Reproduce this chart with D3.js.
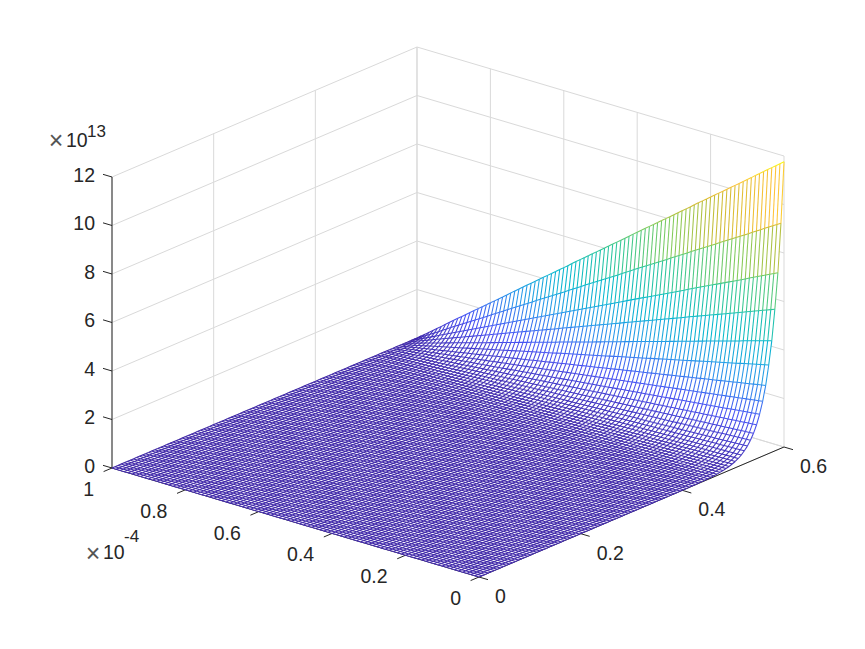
<!DOCTYPE html>
<html>
<head>
<meta charset="utf-8">
<style>html,body{margin:0;padding:0;background:#fff}svg{display:block}text{font-family:"Liberation Sans",Arial,sans-serif;fill:#262626}</style>
<script src="https://cdn.jsdelivr.net/npm/d3@7"></script>
</head>
<body>
<svg id="chart" width="865" height="649"></svg>
<script>
// Surface height (units of 1e13) at a = 0, for each mesh position along b = 0 .. 0.6
const zAlongB = [
0,0,0,0,0,0,0,0,0,0,0,0,0,0,0,0,0,0,0,0,
0,0,0,0,0,0,0,0,0,0,0,0,0,0,0,0,0,0,0,0,
0,0,0,0,0,0,0,0,0,0,0,0,0,0,0,0,0,0,0,0,
0.001,0.001,0.001,0.002,0.002,0.003,0.004,0.005,0.006,0.008,
0.01,0.012,0.015,0.02,0.025,0.03,0.04,0.05,0.06,0.08,
0.10,0.13,0.16,0.21,0.26,0.33,0.42,0.54,0.68,0.87,
1.10,1.40,1.78,2.26,2.86,3.65,4.60,5.84,7.29,9.28,11.76];
// Surface height (units of 1e13) at b = 0.6, for each mesh position along a = 0 .. 1e-4
const zAlongA = [
11.76,11.63,11.50,11.37,11.24,11.11,10.98,10.85,10.71,10.58,
10.45,10.32,10.19,10.06,9.93,9.80,9.67,9.54,9.41,9.28,
9.15,9.02,8.89,8.75,8.62,8.49,8.36,8.23,8.10,7.97,
7.84,7.71,7.58,7.45,7.32,7.19,7.06,6.93,6.79,6.66,
6.53,6.40,6.27,6.14,6.01,5.88,5.75,5.62,5.49,5.36,
5.23,5.10,4.97,4.83,4.70,4.57,4.44,4.31,4.18,4.05,
3.92,3.79,3.66,3.53,3.40,3.27,3.14,3.01,2.87,2.74,
2.61,2.48,2.35,2.22,2.09,1.96,1.83,1.70,1.57,1.44,
1.31,1.18,1.05,0.92,0.78,0.65,0.52,0.39,0.26,0.13,0];
const aTicks = [0,0.2,0.4,0.6,0.8,1];
const aTickLabels = ["0","0.2","0.4","0.6","0.8","1"];
const bTicks = [0,0.2,0.4,0.6];
const bTickLabels = ["0","0.2","0.4","0.6"];
const zTicks = [0,2,4,6,8,10,12];
const zTickLabels = ["0","2","4","6","8","10","12"];
const parulaStops = ["#3e26a8","#4752f4","#2796eb","#05b9cd","#32c896","#82cb5a","#d2bb32","#fec338","#f9fb14"];

const svg = d3.select("#chart");
const aX = d3.scaleLinear().domain([0,1]).range([0,-367]);
const aY = d3.scaleLinear().domain([0,1]).range([0,-109]);
const bX = d3.scaleLinear().domain([0,0.6]).range([0,305]);
const bY = d3.scaleLinear().domain([0,0.6]).range([0,-130]);
const zY = d3.scaleLinear().domain([0,12]).range([0,-291]);
const originX = 479, originY = 577;
const project = (a,b,z) => [originX+aX(a)+bX(b), originY+aY(a)+bY(b)+zY(z)];
const zMax = d3.max(zAlongB);
const colour = d3.scaleLinear()
  .domain(parulaStops.map((_,i)=>i/(parulaStops.length-1)*zMax))
  .range(parulaStops).interpolate(d3.interpolateRgb).clamp(true);

const aGrid = zAlongA.map((_,i)=>i/(zAlongA.length-1));
const bGrid = zAlongB.map((_,j)=>j/(zAlongB.length-1)*0.6);
const Z = (i,j) => zAlongB[j]*zAlongA[i]/zAlongA[0];

// grid on back walls and floor
const gridColour = "#d9d9d9";
const gridSegs = [];
zTicks.forEach(z=>{
  gridSegs.push([project(1,0,z),project(1,0.6,z)]);
  gridSegs.push([project(1,0.6,z),project(0,0.6,z)]);
});
bTicks.forEach(b=>{
  gridSegs.push([project(1,b,0),project(1,b,12)]);
  gridSegs.push([project(0,b,0),project(1,b,0)]);
});
aTicks.forEach(a=>{
  gridSegs.push([project(a,0.6,0),project(a,0.6,12)]);
  gridSegs.push([project(a,0,0),project(a,0.6,0)]);
});
const seg = (sel,data,stroke,width)=>sel.selectAll("line").data(data).join("line")
  .attr("x1",d=>d[0][0]).attr("y1",d=>d[0][1]).attr("x2",d=>d[1][0]).attr("y2",d=>d[1][1])
  .attr("stroke",stroke).attr("stroke-width",width);
seg(svg.append("g").attr("class","grid"),gridSegs,gridColour,1);

// axis rulers
const axisColour = "#262626";
const axisSegs = [
  [project(1,0,0),project(1,0,12)],
  [project(0,0,0),project(1,0,0)],
  [project(0,0,0),project(0,0.6,0)]
];
const tickA = 0.0245, tickB = 0.0165;
zTicks.forEach(z=>axisSegs.push([project(1,0,z),project(1-(-tickA),0,z)]));
aTicks.forEach(a=>axisSegs.push([project(a,0,0),project(a,-tickB,0)]));
bTicks.forEach(b=>axisSegs.push([project(0,b,0),project(-tickA,b,0)]));
seg(svg.append("g").attr("class","axes"),axisSegs,axisColour,1);

// white mesh face that hides what lies behind
const outline = [];
aGrid.forEach((a,i)=>outline.push(project(a,0,Z(i,0))));
bGrid.forEach((b,j)=>outline.push(project(1,b,Z(aGrid.length-1,j))));
aGrid.slice().reverse().forEach((a,k)=>{const i=aGrid.length-1-k;outline.push(project(a,0.6,Z(i,bGrid.length-1)));});
bGrid.slice().reverse().forEach((b,k)=>{const j=bGrid.length-1-k;outline.push(project(0,b,Z(0,j)));});
svg.append("path").attr("d",d3.line()(outline)+"Z").attr("fill","#fff").attr("stroke","none");

// mesh
const meshSegs = [];
aGrid.forEach((a,i)=>bGrid.forEach((b,j)=>{
  const z=Z(i,j);
  if(j<bGrid.length-1){const z2=Z(i,j+1);meshSegs.push({p:[project(a,b,z),project(a,bGrid[j+1],z2)],z:(z+z2)/2});}
  if(i<aGrid.length-1){const z2=Z(i+1,j);meshSegs.push({p:[project(a,b,z),project(aGrid[i+1],b,z2)],z:(z+z2)/2});}
}));
svg.append("g").attr("class","mesh").selectAll("line").data(meshSegs).join("line")
  .attr("x1",d=>d.p[0][0]).attr("y1",d=>d.p[0][1]).attr("x2",d=>d.p[1][0]).attr("y2",d=>d.p[1][1])
  .attr("stroke",d=>colour(d.z)).attr("stroke-width",1.05);

// tick labels
const fs = 19.5;
const label=(x,y,t,anchor,size)=>svg.append("text").attr("x",x).attr("y",y).attr("text-anchor",anchor)
  .attr("dominant-baseline","central").style("font-size",(size||fs)+"px").text(t);
zTicks.forEach((z,i)=>{const p=project(1,0,z);label(p[0]-17,p[1]-2.5,zTickLabels[i],"end");});
aTicks.forEach((a,i)=>{const p=project(a,0,0);label(p[0]-18,p[1]+21,aTickLabels[i],"end");});
bTicks.forEach((b,i)=>{const p=project(0,b,0);label(p[0]+16,p[1]+19,bTickLabels[i],"start");});

// exponents
label(56,140,"×","middle",25).style("fill","#555").style("font-weight","300");
label(66,139.5,"10","start",fs);
label(87,131,"13","start",17);
label(93,553,"×","middle",25).style("fill","#555");
label(103,551.5,"10","start",fs);
label(124,536,"-4","start",17);
</script>
</body>
</html>
